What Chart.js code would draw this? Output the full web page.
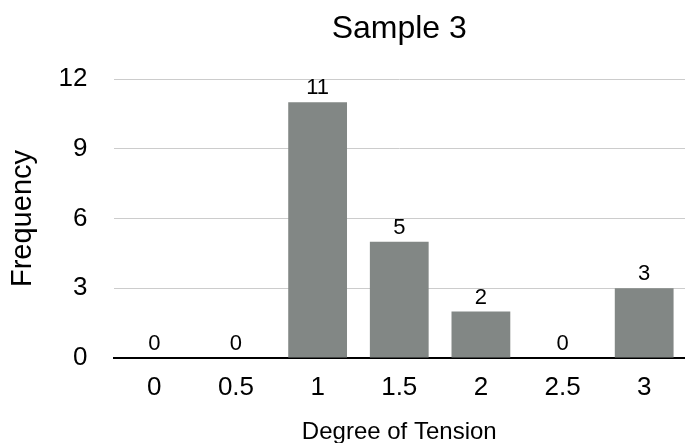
<!DOCTYPE html>
<html>
<head>
<meta charset="utf-8">
<script src="https://cdn.jsdelivr.net/npm/chart.js@4"></script>
<style>
  html, body { margin: 0; padding: 0; background: #fff; }
  #wrap { width: 685px; height: 443px; }
</style>
</head>
<body>
<div id="wrap"><canvas id="chart"></canvas></div>
<script>
const categories = ["0", "0.5", "1", "1.5", "2", "2.5", "3"];
const frequency = [0, 0, 11, 5, 2, 0, 3];
const yTicks = [0, 3, 6, 9, 12];

const FONT = "'Liberation Sans', Arial, Helvetica, sans-serif";

// draws the count above each bar
const valueLabels = {
    id: 'valueLabels',
    afterDatasetsDraw(chart) {
        const ctx = chart.ctx;
        const meta = chart.getDatasetMeta(0);
        ctx.save();
        ctx.font = "22px " + FONT;
        ctx.fillStyle = '#000';
        ctx.textAlign = 'center';
        ctx.textBaseline = 'alphabetic';
        meta.data.forEach((bar, i) => {
            ctx.fillText(String(frequency[i]), bar.x, bar.y - 8);
        });
        ctx.restore();
    }
};

new Chart(document.getElementById('chart'), {
    type: 'bar',
    data: {
        labels: categories,
        datasets: [{
            data: frequency,
            backgroundColor: '#828785',
            barPercentage: 0.72,
            categoryPercentage: 1.0
        }]
    },
    options: {
        responsive: true,
        maintainAspectRatio: false,
        animation: false,
        layout: { padding: { top: 10, right: 0, bottom: 0, left: 0 } },
        plugins: {
            legend: { display: false },
            tooltip: { enabled: false },
            title: {
                display: true,
                text: 'Sample 3',
                fullSize: false,
                color: '#000',
                font: { family: FONT, size: 32, weight: 'normal' },
                padding: { top: 0, bottom: 30.6 }
            }
        },
        scales: {
            x: {
                grid: { display: false, drawTicks: false },
                border: { display: true, color: '#000', width: 2 },
                ticks: { color: '#000', font: { family: FONT, size: 26 }, padding: 14, maxRotation: 0 },
                title: {
                    display: true,
                    text: 'Degree of Tension',
                    color: '#000',
                    font: { family: FONT, size: 24, lineHeight: 0.9 },
                    padding: { top: 4.2, bottom: 0 }
                }
            },
            y: {
                min: 0,
                max: 12,
                afterBuildTicks(axis) { axis.ticks = yTicks.map(v => ({ value: v })); },
                grid: { color: '#cccccc', lineWidth: 1, drawTicks: false },
                border: { display: false },
                ticks: { color: '#000', font: { family: FONT, size: 26 }, padding: 26 },
                title: {
                    display: true,
                    text: 'Frequency',
                    color: '#000',
                    font: { family: FONT, size: 29, lineHeight: 0.662 },
                    padding: { top: 13.4, bottom: 0 }
                }
            }
        }
    },
    plugins: [valueLabels]
});
</script>
</body>
</html>
